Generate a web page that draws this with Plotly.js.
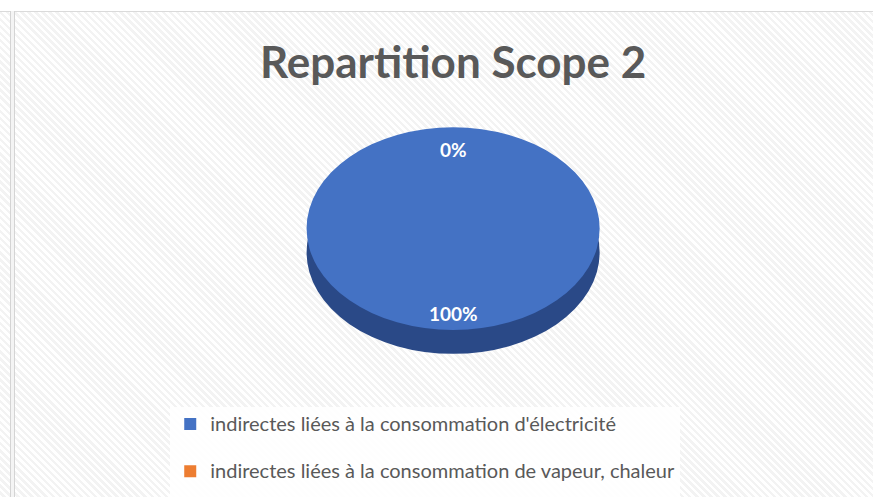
<!DOCTYPE html>
<html>
<head>
<meta charset="utf-8">
<script src="https://cdn.plot.ly/plotly-3.0.1.min.js"></script>
<style>
  html, body { margin: 0; padding: 0; background: #ffffff; }
  #bg { position: absolute; left: 0; top: 11px; width: 873px; height: 486px;
        border-top: 1px solid #dadada;
        background: repeating-linear-gradient(45deg, #ffffff 0px, #ffffff 2.5px, #f3f3f3 2.5px, #f3f3f3 5px); }
  #vline { position: absolute; left: 10px; top: 11px; width: 3px; height: 486px;
        border-left: 1px solid #d4d4d4; border-right: 1px solid #d4d4d4; background: #f4f4f4; }
  #chart { position: absolute; left: 0; top: 0; width: 873px; height: 497px; }
</style>
</head>
<body>
<div id="bg"></div>
<div id="vline"></div>
<div id="chart"></div>
<script>
const categories = [
  "indirectes liées à la consommation d'électricité",
  "indirectes liées à la consommation de vapeur, chaleur"
];
const values = [100, 0];
const topColors = ["#4472C4", "#ED7D31"];
const sideColors = ["#2A4987", "#B55A22"];
const chartTitle = "Repartition Scope 2";

// geometry of the tilted pie (layout only)
const CX = 0.519, CY = 0.54, HALF_H = 0.204, DEPTH = 0.048;
const STRETCH = 1.445;
const LABEL_R = 0.81;

const legendLabels = categories.map(c => "<span style='font-size:20px'>" + c + "</span><br> ");

const sideTrace = {
  type: "pie",
  labels: legendLabels,
  values: values,
  sort: false,
  direction: "clockwise",
  rotation: 0,
  marker: { colors: sideColors, line: { width: 0 } },
  textinfo: "none",
  hoverinfo: "skip",
  showlegend: false,
  domain: { x: [CX - 0.15, CX + 0.15], y: [CY - HALF_H - DEPTH, CY + HALF_H - DEPTH] }
};
const topTrace = {
  type: "pie",
  labels: legendLabels,
  values: values,
  sort: false,
  direction: "clockwise",
  rotation: 0,
  marker: { colors: topColors, line: { width: 0 } },
  textinfo: "none",
  hoverinfo: "label+percent",
  domain: { x: [CX - 0.15, CX + 0.15], y: [CY - HALF_H, CY + HALF_H] }
};

// percentage labels placed at each slice's mid-angle on the tilted face
const total = values.reduce((a, b) => a + b, 0);
const W = 873, H = 497;
const radiusPx = HALF_H * H;
const ax = radiusPx * STRETCH / W, ay = HALF_H;
let cum = 0;
const annotations = values.map(v => {
  const frac = v / total;
  const mid = (cum + frac / 2) * 2 * Math.PI;
  cum += frac;
  return {
    text: "<b>" + Math.round(frac * 100) + "%</b>",
    xref: "paper", yref: "paper",
    x: CX + LABEL_R * ax * Math.sin(mid),
    y: CY + LABEL_R * ay * Math.cos(mid),
    xanchor: "center", yanchor: "middle",
    yshift: -3,
    showarrow: false,
    font: { family: "Lato", size: 19, color: "#ffffff" }
  };
});

const layout = {
  width: W, height: H,
  margin: { l: 0, r: 0, t: 0, b: 0, autoexpand: false },
  paper_bgcolor: "rgba(0,0,0,0)",
  plot_bgcolor: "rgba(0,0,0,0)",
  title: {
    text: chartTitle,
    font: { family: "Lato", size: 44, color: "#595959", weight: "bold" },
    x: 0.519, xanchor: "center",
    y: 0.875, yanchor: "middle", yref: "paper"
  },
  annotations: annotations,
  showlegend: true,
  legend: {
    x: 0.195, xanchor: "left",
    y: 0.182, yanchor: "top",
    bgcolor: "rgba(255,255,255,0.85)",
    font: { family: "Lato", size: 17, color: "#595959" },
    valign: "top",
    traceorder: "normal"
  }
};

Plotly.newPlot("chart", [sideTrace, topTrace], layout, { displayModeBar: false, staticPlot: true }).then(gd => {
  const traces = gd.querySelectorAll(".pielayer .trace");
  traces.forEach((t, i) => {
    const cx = gd.calcdata[i][0].cx;
    t.querySelectorAll("path.surface").forEach(p => {
      p.setAttribute("transform", `translate(${cx},0) scale(${STRETCH},1) translate(${-cx},0)`);
    });
  });
});
</script>
</body>
</html>
